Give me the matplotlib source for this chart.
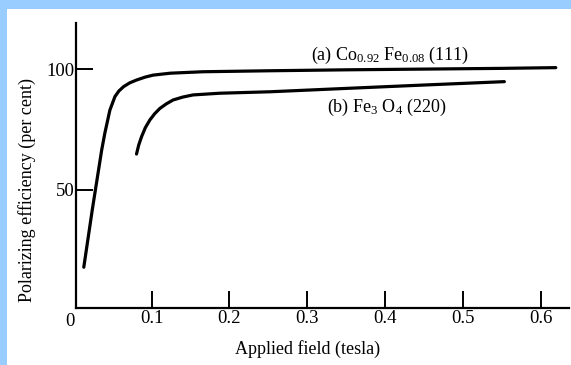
import matplotlib.pyplot as plt
from matplotlib.patches import Rectangle

plt.rcParams['font.family'] = ['Liberation Serif', 'DejaVu Serif']
plt.rcParams['mathtext.fontset'] = 'custom'
plt.rcParams['mathtext.rm'] = 'Liberation Serif'
plt.rcParams['mathtext.it'] = 'Liberation Serif:italic'

# (a) Co0.92 Fe0.08 (111)
field_a = [0.013, 0.024, 0.036, 0.040, 0.0465, 0.053, 0.058, 0.064, 0.072, 0.081,
           0.092, 0.102, 0.124, 0.166, 0.25, 0.35, 0.45, 0.55, 0.619]
eff_a = [18.0, 42.0, 66.6, 73.5, 83.1, 88.7, 91.0, 92.8, 94.4, 95.6,
         96.8, 97.6, 98.4, 99.0, 99.4, 99.8, 100.1, 100.4, 100.7]

# (b) Fe3 O4 (220)
field_b = [0.0807, 0.0835, 0.0872, 0.092, 0.0978, 0.104, 0.1107, 0.119, 0.1277,
           0.140, 0.1534, 0.1877, 0.252, 0.35, 0.45, 0.553]
eff_b = [64.9, 68.6, 72.1, 75.8, 79.0, 81.6, 83.8, 85.7, 87.3,
         88.5, 89.4, 90.1, 90.7, 92.1, 93.5, 94.9]

xticks = [0.1, 0.2, 0.3, 0.4, 0.5, 0.6]
xticklabels = ['0.1', '0.2', '0.3', '0.4', '0.5', '0.6']
yticks = [50, 100]

W, H = 571, 365
fig = plt.figure(figsize=(W / 100, H / 100), dpi=100)
fig.patch.set_facecolor('white')

# light blue frame strips on top and left
blue = '#99ccff'
fig.patches.append(Rectangle((0, 1 - 9 / H), 1, 9 / H, transform=fig.transFigure,
                             facecolor=blue, edgecolor='none', zorder=0))
fig.patches.append(Rectangle((0, 0), 7 / W, 1, transform=fig.transFigure,
                             facecolor=blue, edgecolor='none', zorder=0))

ax = fig.add_axes([76 / W, (H - 308) / H, (569 - 76) / W, (308 - 23) / H])
ax.set_facecolor('none')

ax.plot(field_a, eff_a, color='black', lw=2.3, solid_capstyle='round',
        solid_joinstyle='round')
ax.plot(field_b, eff_b, color='black', lw=2.3, solid_capstyle='round',
        solid_joinstyle='round')

ax.set_xlim(0.003, 0.636)
ax.set_ylim(1.1, 119.2)

for side in ['top', 'right']:
    ax.spines[side].set_visible(False)
for side in ['left', 'bottom']:
    ax.spines[side].set_linewidth(1.6)

ax.set_xticks(xticks)
ax.set_xticklabels(xticklabels)
ax.set_yticks(yticks)
ax.tick_params(axis='both', direction='in', length=12, width=1.4,
               labelsize=13.5, colors='black')
ax.tick_params(axis='x', pad=1.5)
ax.tick_params(axis='y', pad=1)

# shared origin label
ax.text(-0.005, -4.7, '0', ha='center', va='center', fontsize=13.5,
        clip_on=False)

ax.text(0.300, -12.3, 'Applied field (tesla)', ha='center', va='top',
        fontsize=13)
ax.text(-0.060, 50, 'Polarizing efficiency (per cent)', ha='center',
        va='center', rotation=90, fontsize=13)

ax.text(0.406, 105.9, r'(a) Co$_{0.92}$ Fe$_{0.08}$ (111)', ha='center',
        va='center', fontsize=13)
ax.text(0.402, 84.4, r'(b) Fe$_3$ O$_4$ (220)', ha='center', va='center',
        fontsize=13)

fig.savefig('out.png', dpi=100)
